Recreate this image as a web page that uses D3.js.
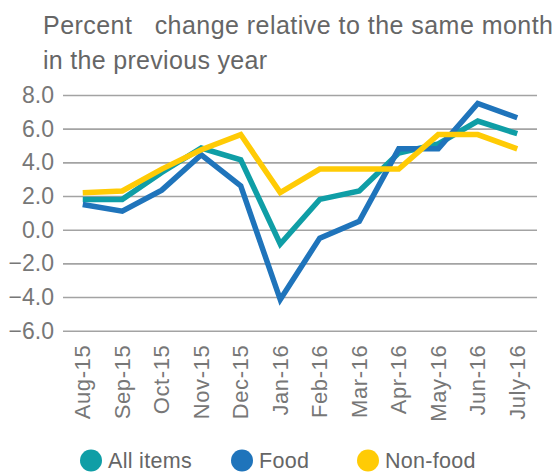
<!DOCTYPE html>
<html>
<head>
<meta charset="utf-8">
<script src="https://cdn.jsdelivr.net/npm/d3@7"></script>
<style>
  body { margin: 0; background: #fff; }
  svg { display: block; font-family: "Liberation Sans", Arial, sans-serif; }
</style>
</head>
<body>
<div id="chart"></div>
<script>
const months = ['Aug-15', 'Sep-15', 'Oct-15', 'Nov-15', 'Dec-15', 'Jan-16', 'Feb-16', 'Mar-16', 'Apr-16', 'May-16', 'Jun-16', 'July-16'];
const allItems = [1.8, 1.8, 3.4, 4.85, 4.15, -0.85, 1.8, 2.3, 4.55, 5.1, 6.45, 5.7];
const food = [1.5, 1.1, 2.35, 4.45, 2.6, -4.15, -0.5, 0.5, 4.8, 4.8, 7.5, 6.65];
const nonFood = [2.2, 2.3, 3.6, 4.75, 5.65, 2.2, 3.6, 3.6, 3.6, 5.65, 5.65, 4.8];
const yTicks = [-6, -4, -2, 0, 2, 4, 6, 8];

const seriesNames = ['All items', 'Food', 'Non-food'];
const seriesColors = ['#0f9ea6', '#1f74bb', '#ffcb05'];
const seriesValues = [allItems, food, nonFood];

const width = 560, height = 473;
const plot = { left: 63, right: 537, top: 95, bottom: 330.7 };

const svg = d3.select('#chart').append('svg')
    .attr('width', width)
    .attr('height', height);

// title
const title = svg.append('text')
    .attr('fill', '#666')
    .attr('font-size', 25);
title.append('tspan').attr('x', 43).attr('y', 33.5)
    .attr('textLength', 510).attr('lengthAdjust', 'spacing')
    .text('Percent\u00a0\u00a0 change relative to the same month');
title.append('tspan').attr('x', 43).attr('y', 69)
    .attr('textLength', 224).attr('lengthAdjust', 'spacing')
    .text('in the previous year');

const x = d3.scaleBand().domain(months).range([plot.left, plot.right]);
const y = d3.scaleLinear().domain([-6, 8]).range([plot.bottom, plot.top]);

// gridlines + y labels
const yAxis = d3.axisLeft(y)
    .tickValues(yTicks)
    .tickSize(-(plot.right - plot.left))
    .tickFormat(d3.format('.1f'));

const gy = svg.append('g')
    .attr('transform', `translate(${plot.left},0)`)
    .call(yAxis);
gy.select('.domain').remove();
gy.selectAll('.tick line').attr('stroke', '#a3a3a3').attr('stroke-width', 1.6);
gy.selectAll('.tick text')
    .attr('fill', '#777')
    .attr('font-size', 23)
    .attr('x', -9);

// x labels
const xAxis = d3.axisBottom(x).tickSize(0).tickPadding(0);
const gx = svg.append('g')
    .attr('transform', `translate(0,${plot.bottom})`)
    .call(xAxis);
gx.select('.domain').remove();
gx.selectAll('.tick text')
    .attr('fill', '#777')
    .attr('font-size', 22)
    .attr('text-anchor', 'end')
    .attr('dy', '0.35em')
    .attr('letter-spacing', 0.6)
    .attr('transform', 'translate(0,14) rotate(-90)');

// lines
const line = d3.line()
    .x((d, i) => x(months[i]) + x.bandwidth() / 2)
    .y(d => y(d));

seriesValues.forEach((vals, k) => {
    svg.append('path')
        .datum(vals)
        .attr('fill', 'none')
        .attr('stroke', seriesColors[k])
        .attr('stroke-width', 5.5)
        .attr('stroke-linejoin', 'miter')
        .attr('d', line);
});

// legend
const legendX = [91, 242, 368];
const legend = svg.append('g').attr('transform', 'translate(0,460.5)');
seriesNames.forEach((name, k) => {
    legend.append('circle')
        .attr('cx', legendX[k])
        .attr('r', 11)
        .attr('fill', seriesColors[k]);
    legend.append('text')
        .attr('x', legendX[k] + 17)
        .attr('y', 7.5)
        .attr('fill', '#666')
        .attr('font-size', 21.5)
        .attr('letter-spacing', 0.3)
        .text(name);
});
</script>
</body>
</html>
